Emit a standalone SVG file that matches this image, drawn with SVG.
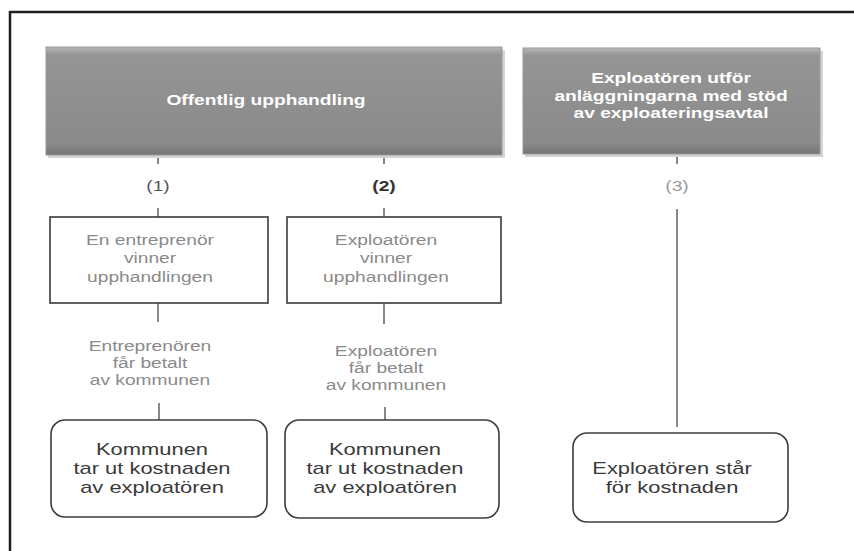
<svg xmlns="http://www.w3.org/2000/svg" width="854" height="551" viewBox="0 0 854 551">
<defs>
<linearGradient id="gb" x1="0" y1="0" x2="0" y2="1">
<stop offset="0" stop-color="#b8b8b8"/>
<stop offset="0.07" stop-color="#959595"/>
<stop offset="0.9" stop-color="#8a8a8a"/>
<stop offset="1" stop-color="#747474"/>
</linearGradient>
</defs>
<style>
.frame{stroke:#1e1e1e;stroke-width:2.5;fill:none}
.gray{fill:url(#gb);stroke:#9a9a9a;stroke-width:1}
.shadow{fill:#d4d4d4}
.wbox{fill:#fff;stroke:#3a3a3a;stroke-width:1.6}
.rbox{fill:#fff;stroke:#3c3c3c;stroke-width:1.6}
.con{stroke:#555;stroke-width:1.4;fill:none}
text{font-family:"Liberation Sans",Arial,sans-serif;text-anchor:middle}
.tg{font-size:14px;font-weight:bold;fill:#fff}
.tw{font-size:14px;fill:#8a8a8a}
.tm{font-size:14px;fill:#8a8a8a}
.tr{font-size:16px;fill:#3a3a3a}
.tn{font-size:14px}
</style>
<rect x="0" y="0" width="854" height="551" fill="#fff"/>
<path class="frame" d="M10 551 V12 H854"/>

<g id="connectors">
<line class="con" x1="158" y1="155" x2="158" y2="164"/>
<line class="con" x1="384" y1="155" x2="384" y2="164"/>
<line class="con" x1="677" y1="154" x2="677" y2="164"/>
<line class="con" x1="158" y1="208" x2="158" y2="217"/>
<line class="con" x1="384" y1="208" x2="384" y2="217"/>
<line class="con" x1="158" y1="303" x2="158" y2="322"/>
<line class="con" x1="384" y1="303" x2="384" y2="324"/>
<line class="con" x1="159" y1="403" x2="159" y2="420"/>
<line class="con" x1="385" y1="407" x2="385" y2="420"/>
<line class="con" x1="677" y1="209" x2="677" y2="427"/>
</g>

<g id="node-offentlig">
<rect class="shadow" x="48" y="50" width="457" height="108"/>
<rect class="gray" x="46" y="47" width="456" height="108"/>
<g transform="translate(266 0) scale(1.37 1)"><text class="tg" x="0" y="105">Offentlig upphandling</text></g>
</g>

<g id="node-exploatoren-utfor">
<rect class="shadow" x="525" y="51" width="298" height="106"/>
<rect class="gray" x="523" y="48" width="297" height="106"/>
<g transform="translate(671 0) scale(1.37 1)">
<text class="tg" x="0" y="83">Exploatören utför</text>
<text class="tg" x="0" y="101">anläggningarna med stöd</text>
<text class="tg" x="0" y="118">av exploateringsavtal</text>
</g>
</g>

<g id="label-1"><g transform="translate(158 0) scale(1.37 1)"><text class="tn" x="0" y="191" fill="#555">(1)</text></g></g>
<g id="label-2"><g transform="translate(384 0) scale(1.37 1)"><text class="tn" x="0" y="191" fill="#333" font-weight="bold">(2)</text></g></g>
<g id="label-3"><g transform="translate(677 0) scale(1.37 1)"><text class="tn" x="0" y="191" fill="#999">(3)</text></g></g>

<g id="node-entreprenor-vinner">
<rect class="wbox" x="50" y="217" width="218" height="86"/>
<g transform="translate(150 0) scale(1.37 1)">
<text class="tw" x="0" y="245">En entreprenör</text>
<text class="tw" x="0" y="263">vinner</text>
<text class="tw" x="0" y="282">upphandlingen</text>
</g>
</g>

<g id="node-exploatoren-vinner">
<rect class="wbox" x="287" y="217" width="214" height="86"/>
<g transform="translate(386 0) scale(1.37 1)">
<text class="tw" x="0" y="245">Exploatören</text>
<text class="tw" x="0" y="263">vinner</text>
<text class="tw" x="0" y="282">upphandlingen</text>
</g>
</g>

<g id="text-entreprenoren-betalt">
<g transform="translate(150 0) scale(1.37 1)">
<text class="tm" x="0" y="351">Entreprenören</text>
<text class="tm" x="0" y="368">får betalt</text>
<text class="tm" x="0" y="385">av kommunen</text>
</g>
</g>

<g id="text-exploatoren-betalt">
<g transform="translate(386 0) scale(1.37 1)">
<text class="tm" x="0" y="356">Exploatören</text>
<text class="tm" x="0" y="373">får betalt</text>
<text class="tm" x="0" y="390">av kommunen</text>
</g>
</g>

<g id="node-kommunen-1">
<rect class="rbox" x="51" y="420" width="216" height="97" rx="14" ry="14"/>
<g transform="translate(152 0) scale(1.37 1)">
<text class="tr" x="0" y="455">Kommunen</text>
<text class="tr" x="0" y="474">tar ut kostnaden</text>
<text class="tr" x="0" y="493">av exploatören</text>
</g>
</g>

<g id="node-kommunen-2">
<rect class="rbox" x="285" y="420" width="214" height="98" rx="14" ry="14"/>
<g transform="translate(385 0) scale(1.37 1)">
<text class="tr" x="0" y="455">Kommunen</text>
<text class="tr" x="0" y="474">tar ut kostnaden</text>
<text class="tr" x="0" y="493">av exploatören</text>
</g>
</g>

<g id="node-exploatoren-star">
<rect class="rbox" x="573" y="433" width="215" height="89" rx="14" ry="14"/>
<g transform="translate(672 0) scale(1.37 1)">
<text class="tr" x="0" y="474">Exploatören står</text>
<text class="tr" x="0" y="493">för kostnaden</text>
</g>
</g>
</svg>
